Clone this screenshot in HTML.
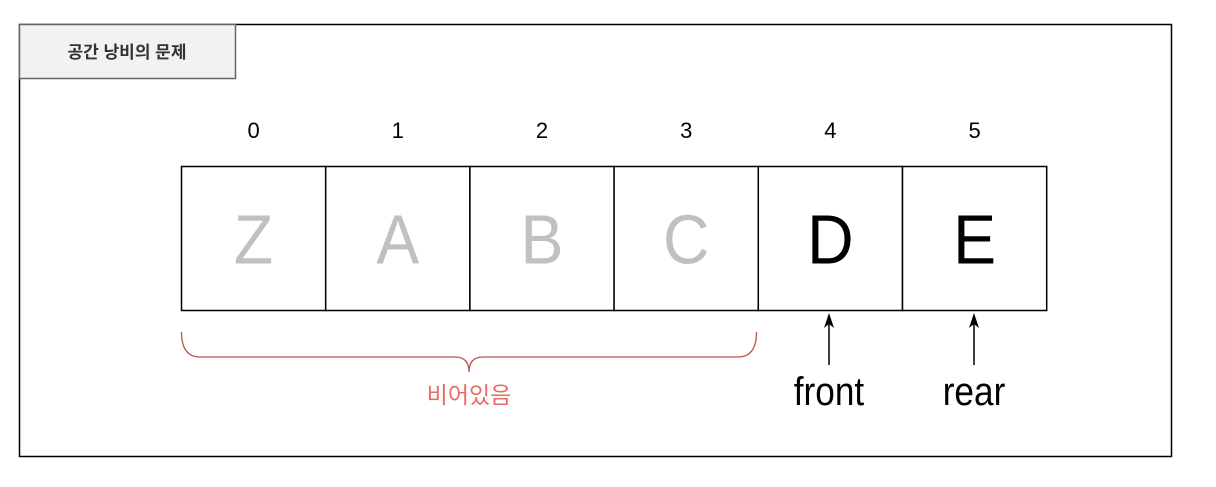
<!DOCTYPE html>
<html><head><meta charset="utf-8"><style>
body{margin:0;background:#fff;width:1216px;height:487px;overflow:hidden}
svg{display:block}
text{font-family:"Liberation Sans","Noto Sans CJK KR",sans-serif}
</style></head><body>
<svg width="1216" height="487">
<rect x="19.5" y="24.5" width="1152" height="432" fill="#fff" stroke="#000" stroke-width="1.5"/>
<rect x="19.5" y="24.5" width="216" height="54" fill="#f2f2f2" stroke="#666" stroke-width="1.5"/>
<text x="127" y="58" font-size="17" font-weight="bold" fill="#333" text-anchor="middle">공간 낭비의 문제</text>
<g id="cells"></g>
<path d="M181.5 332 Q181.5 357 200 357 L455 357 Q469 357 469 372 Q469 357 483 357 L738 357 Q756.5 357 756.5 332" fill="none" stroke="#b85450" stroke-width="1.3"/>
<text x="469" y="403" font-size="23" fill="#ea6b66" text-anchor="middle">비어있음</text>
<g>
<line x1="829" y1="365" x2="829" y2="322" stroke="#000" stroke-width="1.5"/>
<path d="M829 313 L824 328 L829 324 L834 328 Z" fill="#000"/>
<text x="829" y="405" font-size="40" text-anchor="middle" transform="translate(829 0) scale(0.88 1) translate(-829 0)">front</text>
</g>
<g>
<line x1="974" y1="365" x2="974" y2="322" stroke="#000" stroke-width="1.5"/>
<path d="M974 313 L969 328 L974 324 L979 328 Z" fill="#000"/>
<text x="974" y="405" font-size="40" text-anchor="middle" transform="translate(974 0) scale(0.88 1) translate(-974 0)">rear</text>
</g>
</svg>
<script>
const indices=['0','1','2','3','4','5'];
const letters=['Z','A','B','C','D','E'];
const active=[false,false,false,false,true,true];
const g=document.getElementById('cells');
const NS='http://www.w3.org/2000/svg';
const x0=181.5,w=144.2,y0=166.5,h=144;
letters.forEach((L,i)=>{
 const x=x0+i*w;
 const r=document.createElementNS(NS,'rect');
 
 
 r.setAttribute('x',x);r.setAttribute('y',y0);r.setAttribute('width',w);r.setAttribute('height',h);
 r.setAttribute('fill','#fff');r.setAttribute('stroke','#000');r.setAttribute('stroke-width','1.5');
 g.appendChild(r);
 const t=document.createElementNS(NS,'text');
 
 
 t.setAttribute('x',x+w/2);t.setAttribute('y',y0+h/2+25);t.setAttribute('font-size','70');
 t.setAttribute('text-anchor','middle');t.setAttribute('fill',active[i]?'#000':'#c0c0c0');
 t.setAttribute('transform','translate('+(x+w/2)+' 0) scale(0.92 1) translate('+(-(x+w/2))+' 0)');
 t.textContent=L;g.appendChild(t);
 const n=document.createElementNS(NS,'text');
 
 
 n.setAttribute('x',x+w/2);n.setAttribute('y',138);n.setAttribute('font-size','22');
 n.setAttribute('text-anchor','middle');n.textContent=indices[i];g.appendChild(n);
});
</script>
</body></html>
